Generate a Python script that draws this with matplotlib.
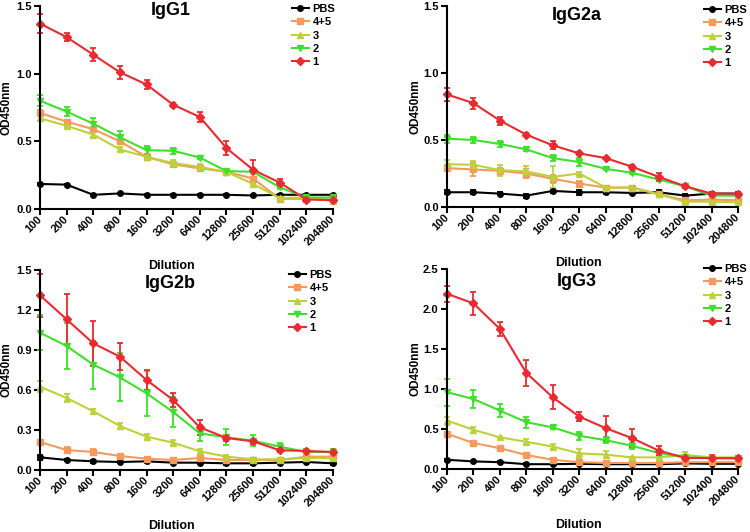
import matplotlib
matplotlib.use("Agg")
import matplotlib.pyplot as plt

plt.rcParams["font.family"] = ["Liberation Sans", "DejaVu Sans"]
plt.rcParams["font.weight"] = "bold"

dilutions = ["100", "200", "400", "800", "1600", "3200", "6400",
             "12800", "25600", "51200", "102400", "204800"]
groups = ["PBS", "4+5", "3", "2", "1"]
colors = ["#000000", "#f59a5c", "#bcd13a", "#3fe02c", "#ea2a30"]
markers = ["o", "s", "^", "v", "D"]

# IgG1
igg1_mean = {
    "PBS": [0.185, 0.18, 0.105, 0.115, 0.105, 0.105, 0.105, 0.105, 0.10, 0.105, 0.105, 0.105],
    "4+5": [0.71, 0.645, 0.59, 0.50, 0.385, 0.33, 0.30, 0.275, 0.225, 0.075, 0.075, 0.07],
    "3": [0.67, 0.615, 0.55, 0.44, 0.385, 0.34, 0.31, 0.275, 0.185, 0.08, 0.085, 0.06],
    "2": [0.80, 0.72, 0.63, 0.53, 0.435, 0.43, 0.38, 0.28, 0.275, 0.16, 0.085, 0.085],
    "1": [1.37, 1.27, 1.14, 1.01, 0.92, 0.77, 0.68, 0.45, 0.29, 0.195, 0.07, 0.065],
}
igg1_err = {
    "PBS": [0.005] * 12,
    "4+5": [0.02, 0.01, 0.01, 0.02, 0.01, 0.02, 0.02, 0.01, 0.03, 0.01, 0.01, 0.01],
    "3": [0.02, 0.01, 0.02, 0.02, 0.01, 0.02, 0.02, 0.01, 0.01, 0.01, 0.01, 0.01],
    "2": [0.04, 0.03, 0.04, 0.05, 0.03, 0.02, 0.01, 0.01, 0.01, 0.01, 0.01, 0.01],
    "1": [0.07, 0.03, 0.05, 0.05, 0.03, 0.015, 0.04, 0.05, 0.07, 0.03, 0.01, 0.01],
}

# IgG2a
igg2a_mean = {
    "PBS": [0.11, 0.11, 0.10, 0.085, 0.12, 0.11, 0.11, 0.105, 0.11, 0.085, 0.10, 0.10],
    "4+5": [0.29, 0.28, 0.27, 0.25, 0.21, 0.175, 0.145, 0.145, 0.095, 0.05, 0.055, 0.05],
    "3": [0.32, 0.315, 0.275, 0.265, 0.225, 0.25, 0.145, 0.145, 0.095, 0.04, 0.04, 0.035],
    "2": [0.51, 0.50, 0.47, 0.43, 0.365, 0.335, 0.285, 0.255, 0.205, 0.155, 0.085, 0.085],
    "1": [0.84, 0.775, 0.645, 0.54, 0.46, 0.40, 0.365, 0.30, 0.225, 0.155, 0.10, 0.10],
}
igg2a_err = {
    "PBS": [0.015, 0.015, 0.01, 0.015, 0.015, 0.02, 0.01, 0.01, 0.015, 0.01, 0.01, 0.01],
    "4+5": [0.02, 0.05, 0.02, 0.03, 0.03, 0.02, 0.01, 0.01, 0.01, 0.01, 0.01, 0.01],
    "3": [0.03, 0.03, 0.04, 0.04, 0.08, 0.01, 0.01, 0.01, 0.01, 0.01, 0.01, 0.01],
    "2": [0.03, 0.02, 0.02, 0.01, 0.02, 0.03, 0.01, 0.01, 0.01, 0.01, 0.01, 0.01],
    "1": [0.05, 0.04, 0.03, 0.01, 0.03, 0.01, 0.01, 0.01, 0.03, 0.01, 0.01, 0.01],
}

# IgG2b
igg2b_mean = {
    "PBS": [0.095, 0.075, 0.065, 0.06, 0.065, 0.055, 0.055, 0.05, 0.05, 0.055, 0.06, 0.05],
    "4+5": [0.21, 0.15, 0.135, 0.105, 0.085, 0.075, 0.09, 0.075, 0.075, 0.075, 0.10, 0.10],
    "3": [0.625, 0.54, 0.44, 0.33, 0.25, 0.205, 0.14, 0.10, 0.08, 0.08, 0.09, 0.09],
    "2": [1.03, 0.93, 0.79, 0.695, 0.575, 0.435, 0.275, 0.245, 0.22, 0.175, 0.135, 0.135],
    "1": [1.31, 1.13, 0.95, 0.85, 0.675, 0.525, 0.32, 0.24, 0.215, 0.148, 0.143, 0.135],
}
igg2b_err = {
    "PBS": [0.02, 0.01, 0.01, 0.01, 0.01, 0.01, 0.01, 0.01, 0.01, 0.01, 0.01, 0.015],
    "4+5": [0.01, 0.02, 0.02, 0.01, 0.01, 0.01, 0.01, 0.01, 0.01, 0.01, 0.01, 0.01],
    "3": [0.04, 0.03, 0.02, 0.02, 0.02, 0.02, 0.02, 0.01, 0.01, 0.01, 0.01, 0.01],
    "2": [0.13, 0.17, 0.18, 0.18, 0.17, 0.115, 0.06, 0.06, 0.04, 0.03, 0.02, 0.02],
    "1": [0.16, 0.19, 0.17, 0.10, 0.075, 0.055, 0.055, 0.02, 0.02, 0.01, 0.01, 0.01],
}

# IgG3
igg3_mean = {
    "PBS": [0.115, 0.095, 0.085, 0.06, 0.06, 0.065, 0.06, 0.06, 0.06, 0.07, 0.065, 0.065],
    "4+5": [0.44, 0.325, 0.26, 0.175, 0.115, 0.085, 0.075, 0.075, 0.075, 0.085, 0.085, 0.085],
    "3": [0.605, 0.49, 0.395, 0.34, 0.28, 0.195, 0.18, 0.145, 0.145, 0.175, 0.145, 0.145],
    "2": [0.96, 0.875, 0.73, 0.585, 0.52, 0.415, 0.36, 0.29, 0.20, 0.145, 0.135, 0.135],
    "1": [2.19, 2.07, 1.75, 1.20, 0.895, 0.655, 0.51, 0.385, 0.23, 0.14, 0.135, 0.135],
}
igg3_err = {
    "PBS": [0.01] * 12,
    "4+5": [0.01, 0.01, 0.01, 0.01, 0.01, 0.01, 0.01, 0.01, 0.01, 0.01, 0.01, 0.01],
    "3": [0.05, 0.04, 0.01, 0.03, 0.03, 0.06, 0.04, 0.01, 0.01, 0.04, 0.01, 0.01],
    "2": [0.17, 0.11, 0.08, 0.07, 0.02, 0.05, 0.04, 0.04, 0.03, 0.02, 0.01, 0.01],
    "1": [0.10, 0.14, 0.09, 0.16, 0.15, 0.055, 0.155, 0.11, 0.06, 0.04, 0.04, 0.03],
}

panels = [
    # title, means, errors, ymax, yticks, axes box (px), title y, legend top-left (px), ylabel x
    ("IgG1", igg1_mean, igg1_err, 1.5, [0.0, 0.5, 1.0, 1.5], (40, 6, 333, 209), 0.98, (292, 4), -0.094),
    ("IgG2a", igg2a_mean, igg2a_err, 1.5, [0.0, 0.5, 1.0, 1.5], (447, 6, 738, 207), 0.955, (704, 5), -0.086),
    ("IgG2b", igg2b_mean, igg2b_err, 1.5, [0.0, 0.3, 0.6, 0.9, 1.2, 1.5], (40, 270, 333, 470), 0.935, (289, 270), -0.094),
    ("IgG3", igg3_mean, igg3_err, 2.5, [0.0, 0.5, 1.0, 1.5, 2.0, 2.5], (447, 269, 738, 469), 0.935, (704, 264), -0.086),
]

W, H = 750, 532
fig = plt.figure(figsize=(7.5, 5.32), dpi=100)

for title, means, errs, ymax, yticks, (x0, y0, x1, y1), ty, (lx, ly), ylx in panels:
    ax = fig.add_axes([x0 / W, 1 - y1 / H, (x1 - x0) / W, (y1 - y0) / H])
    xs = list(range(len(dilutions)))
    handles = []
    for g, c, m in zip(groups, colors, markers):
        cont = ax.errorbar(xs, means[g], yerr=errs[g], color=c, marker=m, markersize=4,
                           linewidth=1.5, elinewidth=1.3, capsize=2.5, capthick=1.3,
                           label=g, clip_on=False)
        handles.append(cont[0])
    ax.set_xlim(0, len(dilutions) - 1)
    ax.set_ylim(0, ymax)
    ax.set_yticks(yticks)
    ax.set_yticklabels([f"{t:.1f}" for t in yticks], fontsize=8, fontweight="bold")
    ax.set_xticks(xs)
    ax.set_xticklabels(dilutions, rotation=45, ha="right", va="center",
                       rotation_mode="anchor", fontsize=8, fontweight="bold")
    for s in ["top", "right"]:
        ax.spines[s].set_visible(False)
    for s in ["left", "bottom"]:
        ax.spines[s].set_linewidth(1.5)
    ax.tick_params(direction="out", length=4, width=1.5, pad=2)
    ax.set_xlabel("Dilution", fontsize=9, fontweight="bold")
    ax.xaxis.set_label_coords(0.45, -0.25)
    ax.set_ylabel("OD450nm", fontsize=8.5, fontweight="bold")
    ax.yaxis.set_label_coords(ylx, 0.5)
    ax.text(0.445, ty, title, transform=ax.transAxes, ha="center", va="center",
            fontsize=13, fontweight="bold")
    leg = ax.legend(handles, groups, loc="upper left",
                    bbox_to_anchor=(lx / W, 1 - ly / H), bbox_transform=fig.transFigure,
                    frameon=False, fontsize=8, handlelength=1.5, handletextpad=0.35,
                    labelspacing=0.3, borderpad=0, borderaxespad=0)
    for t in leg.get_texts():
        t.set_fontweight("bold")

fig.savefig("out.png", dpi=100)
